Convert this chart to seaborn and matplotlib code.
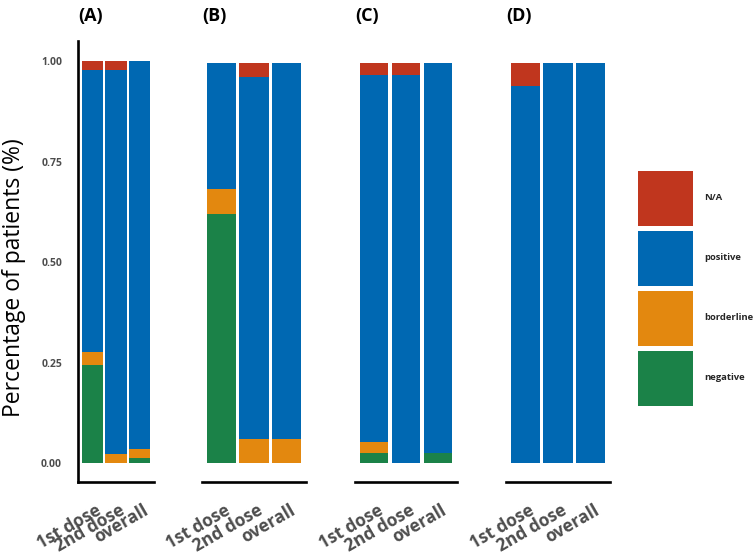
import matplotlib
matplotlib.use("Agg")
import matplotlib.pyplot as plt
from matplotlib.patches import Patch
from matplotlib.transforms import ScaledTranslation
import seaborn as sns
import pandas as pd

# ---------------- data ----------------
doses = ["1st dose", "2nd dose", "overall"]
statuses = ["negative", "borderline", "positive", "N/A"]
panel_labels = ["(A)", "(B)", "(C)", "(D)"]

negative_A = [0.244, 0.000, 0.012]
borderline_A = [0.032, 0.022, 0.023]
positive_A = [0.702, 0.955, 0.965]
na_A = [0.022, 0.023, 0.000]

negative_B = [0.619, 0.000, 0.000]
borderline_B = [0.063, 0.060, 0.060]
positive_B = [0.313, 0.900, 0.935]
na_B = [0.000, 0.035, 0.000]

negative_C = [0.025, 0.000, 0.025]
borderline_C = [0.027, 0.000, 0.000]
positive_C = [0.913, 0.965, 0.970]
na_C = [0.030, 0.030, 0.000]

negative_D = [0.000, 0.000, 0.000]
borderline_D = [0.000, 0.000, 0.000]
positive_D = [0.938, 0.995, 0.995]
na_D = [0.057, 0.000, 0.000]

yticks = [0.0, 0.25, 0.5, 0.75, 1.0]
ytick_labels = ["0.00", "0.25", "0.50", "0.75", "1.00"]

colors = {"N/A": "#C0361E", "positive": "#0068B2",
          "borderline": "#E3880F", "negative": "#1B8248"}

panel_data = [
    (negative_A, borderline_A, positive_A, na_A),
    (negative_B, borderline_B, positive_B, na_B),
    (negative_C, borderline_C, positive_C, na_C),
    (negative_D, borderline_D, positive_D, na_D),
]

# ---------------- layout ----------------
sns.set_style("white")
plt.rcParams["font.family"] = ["Open Sans", "DejaVu Sans"]

W, H = 755, 555
fig = plt.figure(figsize=(W / 100, H / 100), dpi=100)

px_x = [(78, 154), (202, 306), (355, 457), (506, 610)]
y_top, y_bot = 41, 482
tick_col = "#4D4D4D"

for i, ((x0, x1), vals) in enumerate(zip(px_x, panel_data)):
    ax = fig.add_axes([x0 / W, 1 - y_bot / H, (x1 - x0) / W, (y_bot - y_top) / H])
    rows = []
    for s, v in zip(statuses, vals):
        for d, val in zip(doses, v):
            rows.append({"dose": d, "status": s, "value": val})
    df = pd.DataFrame(rows)
    df["status"] = pd.Categorical(df["status"], statuses, ordered=True)
    df = df.sort_values(["dose", "status"])
    df["cum"] = df.groupby("dose")["value"].cumsum()
    # draw from top layer downwards so lower layers overlap
    for s in reversed(statuses):
        sub = df[df["status"] == s]
        sns.barplot(data=sub, x="dose", y="cum", order=doses, color=colors[s],
                    saturation=1, width=0.9, ax=ax, linewidth=0, errorbar=None)
    ax.set_xlim(-0.6, 2.6)
    ax.set_ylim(-0.047, 1.05)
    ax.set_xlabel("")
    ax.set_ylabel("")
    for sp in ["top", "right"]:
        ax.spines[sp].set_visible(False)
    ax.spines["bottom"].set_color("black")
    ax.spines["bottom"].set_linewidth(1.9)
    ax.tick_params(axis="x", length=6, width=1.8, color="#333333",
                   labelsize=12.5, labelcolor=tick_col, pad=8)
    ax.set_xticks(range(len(doses)))
    ax.set_xticklabels(doses, rotation=30, ha="right", va="top",
                       rotation_mode="anchor", fontweight="bold")
    off = ScaledTranslation(3 / 100, 0, fig.dpi_scale_trans)
    for lab in ax.get_xticklabels():
        lab.set_transform(lab.get_transform() + off)
    if i == 0:
        ax.spines["left"].set_color("black")
        ax.spines["left"].set_linewidth(1.9)
        ax.set_yticks(yticks)
        ax.set_yticklabels(ytick_labels, fontweight="bold")
        ax.tick_params(axis="y", length=6.5, width=1.8, color="#333333",
                       labelsize=7.5, labelcolor=tick_col, pad=5)
    else:
        ax.spines["left"].set_visible(False)
        ax.set_yticks([])
    fig.text(x0 / W, 1 - 16 / H, panel_labels[i], fontsize=13,
             fontweight="bold", ha="left", va="center", color="black")

fig.text(14 / W, 1 - 278 / H, "Percentage of patients (%)", rotation=90,
         fontsize=16.5, ha="center", va="center", color="black")

fs_leg = 6.8
fs_px = fs_leg * 100 / 72
handles = [Patch(facecolor=colors[s], edgecolor="none") for s in reversed(statuses)]
labels = list(reversed(statuses))
leg = fig.legend(handles, labels, loc="upper left",
                 bbox_to_anchor=(638 / W, 1 - 171 / H), frameon=False,
                 handlelength=55 / fs_px,
                 handleheight=(55 / fs_px - 0.245) / 0.65,
                 fontsize=fs_leg, labelspacing=5 / fs_px,
                 handletextpad=11 / fs_px, borderpad=0, borderaxespad=0)
for t in leg.get_texts():
    t.set_fontweight("bold")

fig.savefig("out.png", dpi=100)
